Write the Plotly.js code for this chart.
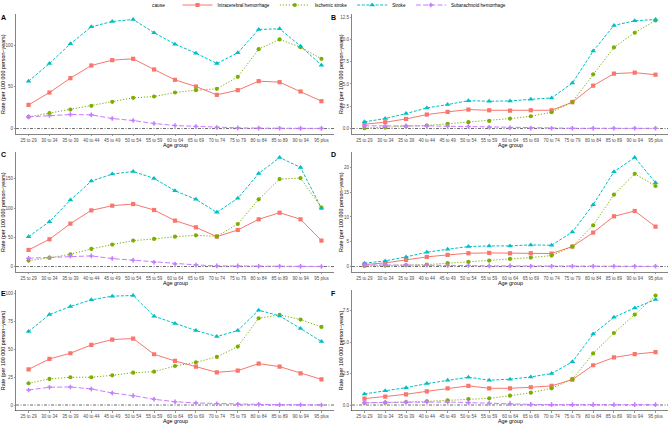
<!DOCTYPE html>
<html>
<head>
<meta charset="utf-8">
<script src="https://cdn.plot.ly/plotly-3.0.1.min.js"></script>
<style>html,body{margin:0;padding:0;background:#fff;}#chart{width:669px;height:424px;}</style>
</head>
<body>
<div id="chart"></div>
<script>
// ---- data ----
const ages = ['25 to 29','30 to 34','35 to 39','40 to 44','45 to 49','50 to 54','55 to 59','60 to 64','65 to 69','70 to 74','75 to 79','80 to 84','85 to 89','90 to 94','95 plus'];
const causes = ['Intracerebral hemorrhage','Ischemic stroke','Stroke','Subarachnoid hemorrhage'];
const panelLetters = ['A','B','C','D','E','F'];

// Panel A
const a_ich    = [28.4,43.2,60.4,75.6,82.0,83.6,70.8,58.4,50.4,40.4,46.0,56.8,55.6,44.4,32.8];
const a_isch   = [14.0,18.4,22.8,27.2,32.0,36.8,38.4,43.2,46.0,47.6,62.0,95.2,106.8,97.6,83.6];
const a_stroke = [56.8,78.0,101.6,122.0,128.4,130.8,114.8,101.2,90.4,78.0,90.8,118.8,119.6,98.8,76.0];
const a_sah    = [14.0,15.6,16.8,16.4,12.0,9.6,6.0,3.6,2.4,1.2,0.8,0.5,0.4,0.2,0.2];
// Panel B
const b_ich    = [0.49,0.71,1.08,1.57,1.87,2.13,2.05,2.01,2.05,2.05,2.95,4.81,6.16,6.27,6.04];
const b_isch   = [0.04,0.11,0.26,0.34,0.52,0.71,0.86,1.12,1.38,1.83,2.99,6.08,9.10,10.75,12.13];
const b_stroke = [0.75,1.12,1.68,2.31,2.69,3.13,3.06,3.10,3.28,3.43,5.11,8.69,11.57,12.09,12.24];
const b_sah    = [0.30,0.26,0.30,0.30,0.26,0.22,0.15,0.08,0.05,0.03,0.03,0.03,0.03,0.03,0.03];
// Panel C
const c_ich    = [28.4,46.6,73.3,96.0,104.0,106.8,96.6,78.4,67.0,51.1,62.5,80.7,92.0,80.7,44.3];
const c_isch   = [10.2,14.8,21.0,30.1,37.5,44.3,47.2,51.1,53.4,51.7,72.7,114.8,149.4,151.1,100.6];
const c_stroke = [51.1,76.7,113.6,146.0,158.0,162.5,150.6,129.5,114.8,92.6,116.5,159.0,186.4,169.3,99.4];
const c_sah    = [14.2,15.3,17.6,18.2,13.6,10.8,7.4,4.5,2.8,1.1,1.1,0.6,0.5,0.3,0.2];
// Panel D
const d_ich    = [0.40,0.74,1.34,1.95,2.35,2.68,2.75,2.68,2.68,2.62,4.03,6.85,10.13,11.20,8.05];
const d_isch   = [0.13,0.20,0.27,0.40,0.67,0.94,1.21,1.54,1.81,2.21,4.03,8.32,14.50,18.70,16.24];
const d_stroke = [0.67,1.14,1.95,2.89,3.49,4.03,4.16,4.16,4.36,4.30,6.98,12.48,19.13,22.00,16.90];
const d_sah    = [0.34,0.34,0.30,0.27,0.20,0.20,0.13,0.13,0.07,0.05,0.05,0.05,0.05,0.05,0.05];
// Panel E
const e_ich    = [32.0,41.3,46.4,53.9,58.7,59.6,45.5,39.5,34.4,29.3,30.8,37.1,34.4,28.4,23.0];
const e_isch   = [19.5,23.4,24.9,24.9,26.6,29.0,29.9,35.0,38.3,43.1,52.4,77.8,80.8,76.6,70.0];
const e_stroke = [65.9,81.1,88.3,94.3,97.6,98.2,79.6,73.1,66.8,61.4,66.8,85.0,79.9,68.6,56.9];
const e_sah    = [13.5,15.9,16.2,14.4,10.8,8.4,5.1,3.0,1.8,1.2,0.6,0.6,0.3,0.2,0.1];
// Panel F
const f_ich    = [0.51,0.66,0.85,1.09,1.33,1.52,1.33,1.33,1.41,1.52,2.02,3.16,3.78,4.04,4.20];
const f_isch   = [0.16,0.19,0.24,0.29,0.37,0.48,0.53,0.74,0.98,1.33,2.05,4.10,5.72,7.18,8.70];
const f_stroke = [0.88,1.14,1.38,1.70,1.97,2.21,1.97,2.05,2.23,2.50,3.43,5.64,6.97,7.71,8.38];
const f_sah    = [0.19,0.21,0.24,0.27,0.24,0.19,0.13,0.11,0.05,0.03,0.03,0.03,0.03,0.03,0.03];

const yTickSteps = [50, 2.5, 50, 5, 25, 2.5];
const yTickFormats = ['d', '.1f', 'd', 'd', 'd', '.1f'];

// ---- styles ----
const colors = ['#F8766D','#7CAE00','#00BFC4','#C77CFF'];
const dashes = ['solid','1.2px,1.8px','3px,1.6px','5px,2.2px'];
const symbols = ['square','circle','triangle-up','cross'];
const msizes = [4.2, 4.2, 5, 3.8];

const W = 669, H = 424;
const colDom = [[16/W, 334/W], [352/W, 668/W]];
const rowDom = [[1-134/H, 1-14/H], [1-272/H, 1-152/H], [1-410.5/H, 1-290/H]];

const panels = [
  [a_ich, a_isch, a_stroke, a_sah],
  [b_ich, b_isch, b_stroke, b_sah],
  [c_ich, c_isch, c_stroke, c_sah],
  [d_ich, d_isch, d_stroke, d_sah],
  [e_ich, e_isch, e_stroke, e_sah],
  [f_ich, f_isch, f_stroke, f_sah]
];

const font = 'Liberation Sans, Arial, sans-serif';
const traces = [];
const layout = {
  width: W, height: H,
  margin: {l:0, r:0, t:0, b:0, autoexpand: false},
  paper_bgcolor: '#fff', plot_bgcolor: '#fff',
  font: {family: font, color: '#000'},
  showlegend: true,
  legend: {
    orientation: 'h', x: 0.515, xanchor: 'center', y: 1 - 5/H, yanchor: 'middle',
    font: {size: 4.6, family: font}, itemwidth: 30, tracegroupgap: 0,
    bgcolor: 'rgba(0,0,0,0)', borderwidth: 0
  },
  shapes: [], annotations: []
};

panels.forEach((series, p) => {
  const col = p % 2, row = Math.floor(p / 2);
  const sfx = p === 0 ? '' : String(p + 1);
  const xa = 'x' + sfx, ya = 'y' + sfx;
  let maxV = 0;
  series.forEach((vals, k) => {
    vals.forEach(v => { if (v > maxV) maxV = v; });
    traces.push({
      type: 'scatter', mode: 'lines+markers', x: ages, y: vals,
      xaxis: xa, yaxis: ya, name: causes[k], legendgroup: causes[k], showlegend: p === 0,
      line: {color: colors[k], width: 1, dash: dashes[k]},
      marker: {color: colors[k], symbol: symbols[k], size: msizes[k]},
      hoverinfo: 'skip'
    });
  });
  const axisCommon = {
    showgrid: false, zeroline: false, showline: true, linecolor: '#333', linewidth: 0.6,
    ticks: 'outside', ticklen: 1.5, tickwidth: 0.5, tickcolor: '#333',
    tickfont: {size: 4.5, color: '#4d4d4d', family: font}, automargin: false
  };
  layout['xaxis' + sfx] = Object.assign({}, axisCommon, {
    domain: colDom[col], anchor: ya, type: 'category', range: [-0.6, ages.length - 0.4],
    tickangle: 0, fixedrange: true
  });
  layout['yaxis' + sfx] = Object.assign({}, axisCommon, {
    domain: rowDom[row], anchor: xa, range: [-0.05 * maxV, 1.05 * maxV],
    dtick: yTickSteps[p], tick0: 0, tickformat: yTickFormats[p], fixedrange: true
  });
  layout.shapes.push({
    type: 'line', xref: xa + ' domain', yref: ya, x0: 0, x1: 1, y0: 0, y1: 0,
    line: {color: '#000', width: 0.6, dash: '3px,1.5px,1px,1.5px'}, layer: 'below'
  });
  const dx0 = colDom[col][0], dx1 = colDom[col][1], dy0 = rowDom[row][0], dy1 = rowDom[row][1];
  layout.annotations.push({
    text: 'Age group', xref: 'paper', yref: 'paper', x: (dx0 + dx1) / 2, y: dy0 - 10.8/H,
    xanchor: 'center', yanchor: 'middle', showarrow: false, font: {size: 5.4, color: '#000'}
  });
  layout.annotations.push({
    text: 'Rate (per 100 000 person\u2212years)', xref: 'paper', yref: 'paper',
    x: dx0 - (col === 0 ? 13 : 11)/W, y: (dy0 + dy1) / 2, textangle: -90,
    xanchor: 'center', yanchor: 'middle', showarrow: false, font: {size: 5.4, color: '#000'}
  });
  layout.annotations.push({
    text: '<b>' + panelLetters[p] + '</b>', xref: 'paper', yref: 'paper',
    x: (col === 0 ? 3 : 333.5)/W, y: dy1 - 3/H, xanchor: 'center', yanchor: 'middle',
    showarrow: false, font: {size: 7, color: '#000'}
  });
});

layout.annotations.push({
  text: 'cause', xref: 'paper', yref: 'paper', x: 0.25, y: 1 - 5/H,
  xanchor: 'right', yanchor: 'middle', showarrow: false, font: {size: 4.8, color: '#000'}
});

Plotly.newPlot('chart', traces, layout, {staticPlot: true, displayModeBar: false});
</script>
</body>
</html>
